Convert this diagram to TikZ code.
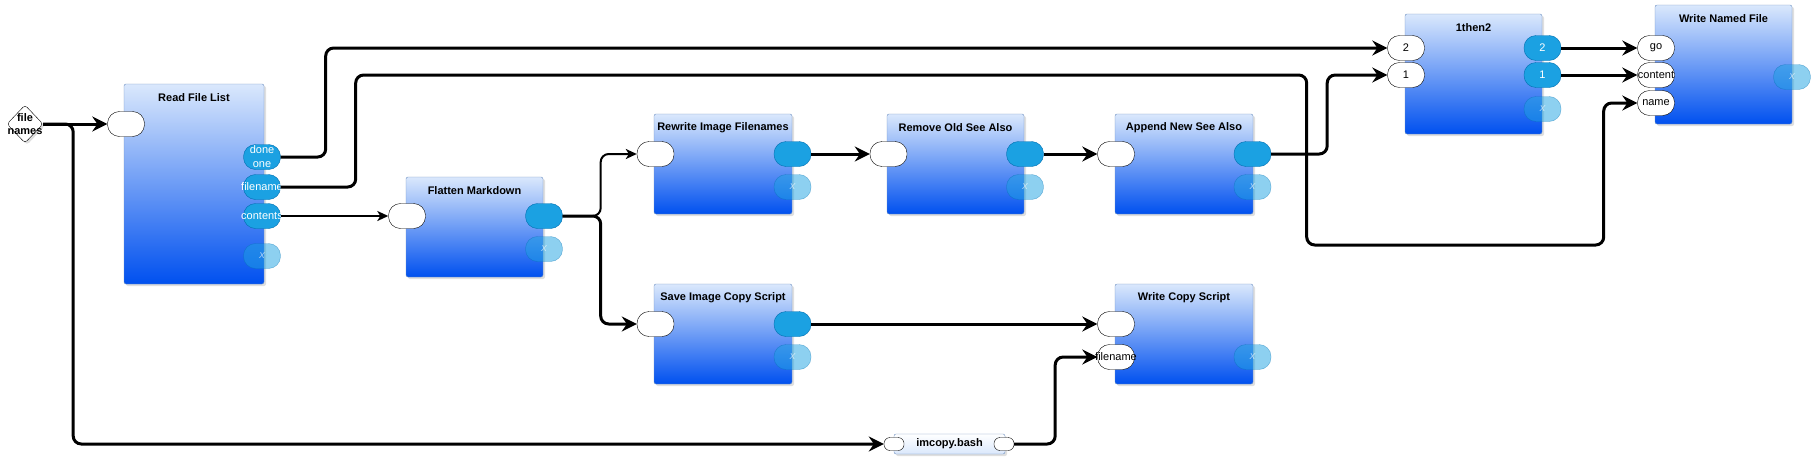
\documentclass[tikz,border=0pt]{standalone}
\usepackage{fontspec}
\setmainfont{Liberation Sans}
\usepackage{xcolor}
\usepackage{tikz}
\usetikzlibrary{arrows.meta, shapes.geometric, shadows}
\definecolor{boxtop}{HTML}{DAE8FC}
\definecolor{boxbot}{HTML}{0050EF}
\definecolor{boxedge}{HTML}{6C8EBF}
\definecolor{pinfill}{HTML}{1BA1E2}
\definecolor{pinedge}{HTML}{006EAF}
\newcommand{\blkfont}{\bfseries\fontsize{11}{13}\selectfont}
\newcommand{\pinfont}{\fontsize{11}{14}\selectfont}
\tikzset{
  blk/.style={rectangle, draw=boxedge, top color=boxtop, bottom color=boxbot,
              rounded corners=2pt, minimum width=138, minimum height=100,
              drop shadow={shadow xshift=2pt, shadow yshift=-2pt, opacity=0.25}},
  btitle/.style={label={[font=\blkfont, anchor=center, yshift=-14pt]north:#1}},
  minibox/.style={rectangle, draw=boxedge, top color=white, bottom color=boxtop,
              rounded corners=2pt, minimum width=111, minimum height=20,
              inner sep=0pt, font=\blkfont,
              drop shadow={shadow xshift=2pt, shadow yshift=-2pt, opacity=0.25}},
  inpin/.style={rectangle, draw=black, fill=white, rounded corners=12pt,
                minimum width=37, minimum height=25, inner sep=0pt},
  outpin/.style={rectangle, draw=pinedge, fill=pinfill, rounded corners=12pt,
                 minimum width=37, minimum height=25, inner sep=0pt},
  minipin/.style={inpin, rounded corners=6pt, minimum width=20, minimum height=13},
  xpin/.style={outpin, opacity=0.5,
               label={[text=white, text opacity=0.6, font=\pinfont\itshape]center:x}},
  intext/.style={label={[font=\pinfont, text=black]center:#1}},
  outtext/.style={label={[font=\pinfont, text=white, align=center]center:#1}},
  link/.style={line width=3pt, rounded corners=8pt,
               -{Stealth[length=15pt, width=15pt, inset=5pt]}},
  thinlink/.style={line width=2pt, rounded corners=8pt,
                   -{Stealth[length=11pt, width=10pt, inset=3pt]}}
}
\begin{document}
\begin{tikzpicture}[x=1pt, y=-1pt]
  \useasboundingbox (0,0) rectangle (1811,463);

  %% -- Source --
  \node[diamond, draw=black, fill=white, rounded corners=3pt, inner sep=0pt,
        minimum width=36, minimum height=38,
        drop shadow={shadow xshift=2pt, shadow yshift=-2pt, opacity=0.25},
        label={[font=\blkfont, align=center]center:file\\names}] (fnames) at (25,124) {};

  %% -- Blocks --
  \node[blk, minimum width=140, minimum height=200, btitle=Read File List] (rfl) at (194,184) {};
  \node[blk, minimum width=137, btitle=Flatten Markdown] (flat) at (474.5,227) {};
  \node[blk, btitle=Rewrite Image Filenames] (rewr) at (723,164) {};
  \node[blk, minimum width=137, btitle=Remove Old See Also] (rmold) at (955.5,164) {};
  \node[blk, btitle=Append New See Also] (apnd) at (1184,164) {};
  \node[blk, minimum width=137, minimum height=120, btitle=1then2] (thn) at (1473.5,74) {};
  \node[blk, minimum width=137, minimum height=119, btitle=Write Named File] (wnf) at (1723.5,64.5) {};
  \node[blk, btitle=Save Image Copy Script] (save) at (723,334) {};
  \node[blk, btitle=Write Copy Script] (wcs) at (1184,334) {};
  \node[minibox] (imc) at (949.5,444) {imcopy.bash};

  %% -- Pins: Read File List --
  \node[inpin]                       (rfl-in)    at (126,124) {};
  \node[outpin, outtext={done\\one}] (rfl-done)  at (262,157) {};
  \node[outpin, outtext=filename]    (rfl-fname) at (262,187) {};
  \node[outpin, outtext=contents]    (rfl-cont)  at (262,216) {};
  \node[xpin]                        (rfl-x)     at (262,256) {};

  %% -- Pins: middle row --
  \node[inpin]  (flat-in)  at (407,216)    {};
  \node[outpin] (flat-out) at (544,216)    {};
  \node[xpin]   (flat-x)   at (544,249)    {};
  \node[inpin]  (rewr-in)  at (655.5,154)  {};
  \node[outpin] (rewr-out) at (792.5,154)  {};
  \node[xpin]   (rewr-x)   at (792.5,187)  {};
  \node[inpin]  (rmold-in)  at (888.5,154) {};
  \node[outpin] (rmold-out) at (1025,154)  {};
  \node[xpin]   (rmold-x)   at (1025,187)  {};
  \node[inpin]  (apnd-in)  at (1116,154)   {};
  \node[outpin] (apnd-out) at (1252.5,154) {};
  \node[xpin]   (apnd-x)   at (1252.5,187) {};

  %% -- Pins: 1then2 and Write Named File --
  \node[inpin, intext=2]   (thn-in2)  at (1406,48)   {};
  \node[inpin, intext=1]   (thn-in1)  at (1406,75)   {};
  \node[outpin, outtext=2] (thn-out2) at (1542.5,48) {};
  \node[outpin, outtext=1] (thn-out1) at (1542.5,75) {};
  \node[xpin]              (thn-x)    at (1542.5,109) {};
  \node[inpin, intext=go]      (wnf-go)      at (1656,48)  {};
  \node[inpin, intext=content] (wnf-content) at (1656,75)  {};
  \node[inpin, intext=name]    (wnf-name)    at (1656,103) {};
  \node[xpin]                  (wnf-x)       at (1792,77)  {};

  %% -- Pins: bottom row --
  \node[inpin]  (save-in)  at (655.5,324)  {};
  \node[outpin] (save-out) at (792.5,324)  {};
  \node[xpin]   (save-x)   at (792.5,357)  {};
  \node[inpin]                  (wcs-in)    at (1116,324)   {};
  \node[inpin, intext=filename] (wcs-fname) at (1116,357)   {};
  \node[xpin]                   (wcs-x)     at (1252.5,357) {};
  \node[minipin] (imc-in)  at (894,444)  {};
  \node[minipin] (imc-out) at (1004,444) {};

  %% -- Links from the source --
  \draw[link] (fnames.east) -- (rfl-in);
  \draw[link] (fnames.east) -- ++(30,0) |- (imc-in);

  %% -- Links from Read File List --
  \draw[link] (rfl-done.east) -- ++(45,0) |- (thn-in2);
  \draw[link] (rfl-fname.east) -- ++(75,0) -- ++(0,-112) -- ++(951,0)
              -- ++(0,170) -- ++(297,0) |- (wnf-name);
  \draw[thinlink] (rfl-cont) -- (flat-in);

  %% -- Links: middle row --
  \draw[thinlink] (flat-out.east) -- ++(38,0) |- (rewr-in);
  \draw[link] (flat-out.east) -- ++(38,0) |- (save-in);
  \draw[link] (rewr-out) -- (rmold-in);
  \draw[link] (rmold-out) -- (apnd-in);
  \draw[link] (apnd-out.east) -- ++(56,0) |- (thn-in1);
  \draw[link] (thn-out2) -- (wnf-go);
  \draw[link] (thn-out1) -- (wnf-content);

  %% -- Links: bottom row --
  \draw[link] (save-out) -- (wcs-in);
  \draw[link] (imc-out.east) -- ++(41,0) |- (wcs-fname);
\end{tikzpicture}
\end{document}
